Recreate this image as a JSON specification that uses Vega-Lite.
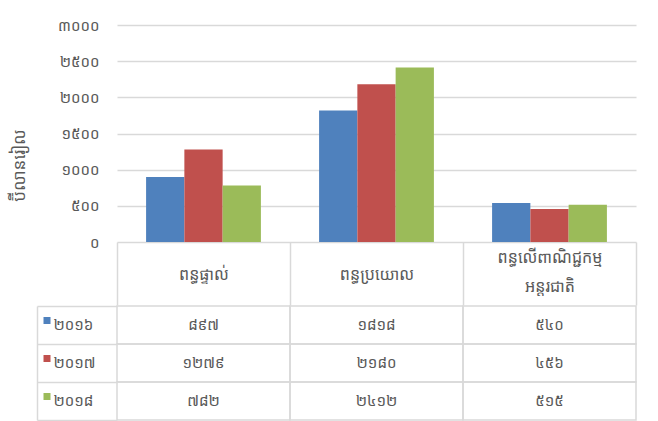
{
  "$schema": "https://vega.github.io/schema/vega-lite/v6.json",
  "padding": {"left": 10, "top": 18, "right": 5, "bottom": 0},
  "background": "white",
  "spacing": -2,
  "config": {
    "font": "Noto Sans Khmer, Khmer OS System, Khmer OS, Noto Serif Khmer, sans-serif",
    "view": {"stroke": null},
    "axis": {"labelColor": "#595959", "titleColor": "#595959", "labelFontSize": 15, "titleFontSize": 17, "titleFontWeight": "normal"}
  },
  "data": {"values": [
    {"cat": "ពន្ធផ្ទាល់", "year": "២០១៦", "value": 897, "km": "៨៩៧"},
    {"cat": "ពន្ធប្រយោល", "year": "២០១៦", "value": 1818, "km": "១៨១៨"},
    {"cat": "ពន្ធលើពាណិជ្ជកម្មអន្តរជាតិ", "year": "២០១៦", "value": 540, "km": "៥៤០"},
    {"cat": "ពន្ធផ្ទាល់", "year": "២០១៧", "value": 1279, "km": "១២៧៩"},
    {"cat": "ពន្ធប្រយោល", "year": "២០១៧", "value": 2180, "km": "២១៨០"},
    {"cat": "ពន្ធលើពាណិជ្ជកម្មអន្តរជាតិ", "year": "២០១៧", "value": 456, "km": "៤៥៦"},
    {"cat": "ពន្ធផ្ទាល់", "year": "២០១៨", "value": 782, "km": "៧៨២"},
    {"cat": "ពន្ធប្រយោល", "year": "២០១៨", "value": 2412, "km": "២៤១២"},
    {"cat": "ពន្ធលើពាណិជ្ជកម្មអន្តរជាតិ", "year": "២០១៨", "value": 515, "km": "៥១៥"}
  ]},
  "vconcat": [
    {
      "width": 519,
      "height": 217,
      "mark": {"type": "bar"},
      "encoding": {
        "x": {
          "field": "cat", "type": "nominal",
          "sort": ["ពន្ធផ្ទាល់", "ពន្ធប្រយោល", "ពន្ធលើពាណិជ្ជកម្មអន្តរជាតិ"],
          "scale": {"paddingInner": 0, "paddingOuter": 0},
          "axis": {
            "title": null, "domain": false, "labelAngle": 0,
            "tickBand": "extent", "tickSize": 63, "tickColor": "#d9d9d9", "tickWidth": 1.5,
            "labelBaseline": "middle", "labelFontSize": 16,
            "labelPadding": {"condition": {"test": "datum.value == 'ពន្ធលើពាណិជ្ជកម្មអន្តរជាតិ'", "value": -48}, "value": -31},
            "labelLineHeight": 29, "labelLimit": 200,
            "labelExpr": "datum.value == 'ពន្ធលើពាណិជ្ជកម្មអន្តរជាតិ' ? ['ពន្ធលើពាណិជ្ជកម្ម', 'អន្តរជាតិ'] : datum.label"
          }
        },
        "xOffset": {
          "field": "year", "type": "nominal",
          "sort": ["២០១៦", "២០១៧", "២០១៨"],
          "scale": {"paddingInner": 0, "paddingOuter": 0.76}
        },
        "y": {
          "field": "value", "type": "quantitative",
          "scale": {"domain": [0, 3000]},
          "axis": {
            "title": "ប៊ីលានរៀល",
            "values": [0, 500, 1000, 1500, 2000, 2500, 3000],
            "labelExpr": "({'0': '០', '500': '៥០០', '1000': '១០០០', '1500': '១៥០០', '2000': '២០០០', '2500': '២៥០០', '3000': '៣០០០'})[datum.value]",
            "domain": false, "ticks": false, "labelPadding": 18,
            "gridColor": "#d9d9d9", "gridWidth": 1.5,
            "titleX": -98, "titleY": 140, "titleBaseline": "middle", "titleAngle": -90
          }
        },
        "color": {
          "field": "year", "type": "nominal",
          "scale": {"domain": ["២០១៦", "២០១៧", "២០១៨"], "range": ["#4f81bd", "#c0504d", "#9bbb59"]},
          "legend": null
        }
      }
    },
    {
      "width": 519,
      "height": 114,
      "layer": [
        {
          "mark": {"type": "rect", "fill": "transparent", "stroke": "#d9d9d9", "strokeWidth": 1.5},
          "encoding": {
            "x": {"field": "cat", "type": "nominal", "sort": ["ពន្ធផ្ទាល់", "ពន្ធប្រយោល", "ពន្ធលើពាណិជ្ជកម្មអន្តរជាតិ"], "scale": {"paddingInner": 0, "paddingOuter": 0}, "axis": null},
            "y": {
              "field": "year", "type": "nominal", "sort": ["២០១៦", "២០១៧", "២០១៨"],
              "scale": {"paddingInner": 0, "paddingOuter": 0},
              "axis": {
                "title": null, "orient": "left", "offset": 80, "domain": true, "domainColor": "#d9d9d9", "domainWidth": 1.5,
                "tickBand": "extent", "tickSize": -80, "tickColor": "#d9d9d9", "tickWidth": 1.5,
                "labels": false
              }
            }
          }
        },
        {
          "mark": {"type": "text", "fontSize": 15, "color": "#595959"},
          "encoding": {
            "x": {"field": "cat", "type": "nominal", "sort": ["ពន្ធផ្ទាល់", "ពន្ធប្រយោល", "ពន្ធលើពាណិជ្ជកម្មអន្តរជាតិ"], "axis": null},
            "y": {
              "field": "year", "type": "nominal", "sort": ["២០១៦", "២០១៧", "២០១៨"],
              "axis": {
                "title": null, "orient": "left", "offset": 67, "domain": false,
                "tickSize": 7, "tickWidth": 7, "tickCap": "butt", "tickOffset": -5, "labelOffset": 4,
                "tickColor": {"condition": [{"test": "datum.value === '២០១៦'", "value": "#4f81bd"}, {"test": "datum.value === '២០១៧'", "value": "#c0504d"}], "value": "#9bbb59"},
                "labelAlign": "left", "labelPadding": -10, "labelBaseline": "middle"
              }
            },
            "text": {"field": "km"}
          }
        }
      ],
      "resolve": {"axis": {"y": "independent"}}
    }
  ]
}
